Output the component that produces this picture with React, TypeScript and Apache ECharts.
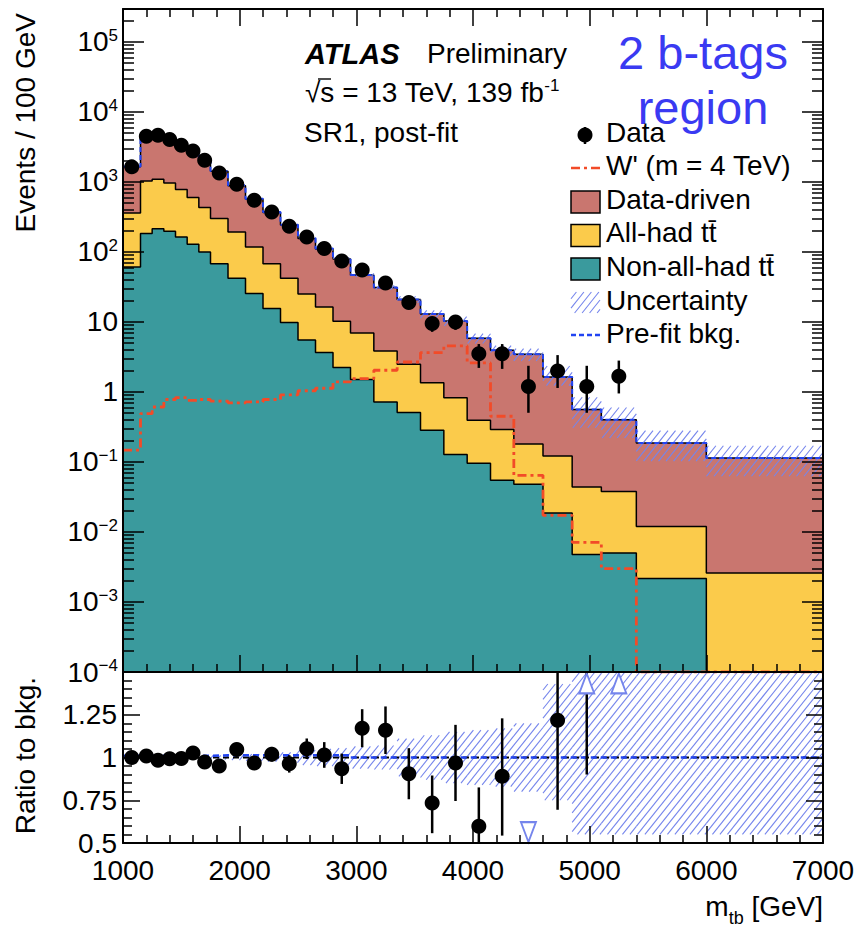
import React, { useEffect, useRef } from 'react';
import * as echarts from 'echarts';

// m_tb binning (GeV); 28 bins of variable width
const binEdges = [1000, 1150, 1250, 1350, 1450, 1550, 1650, 1750, 1900, 2050, 2200, 2350, 2500, 2650, 2800, 2950, 3150, 3350, 3550, 3750, 3950, 4150, 4350, 4600, 4850, 5100, 5400, 6000, 7000];

// Observed events / 100 GeV (no events in the last two bins)
const dataEvents = [1640, 4500, 4650, 4030, 3340, 2770, 2040, 1345, 927, 548, 373, 233, 164, 112, 74, 55, 36, 19, 9.5, 10, 3.5, 3.5, 1.2, 2.0, 1.2, 1.67, null, null];
// Relative statistical errors on the data (up / down)
const dataErrUp = [0.025, 0.015, 0.015, 0.016, 0.017, 0.019, 0.022, 0.022, 0.027, 0.035, 0.042, 0.053, 0.057, 0.074, 0.095, 0.095, 0.12, 0.165, 0.22, 0.23, 0.38, 0.38, 0.97, 0.68, 0.97, 0.68, 0, 0];
const dataErrDown = [0.025, 0.015, 0.015, 0.016, 0.017, 0.019, 0.022, 0.022, 0.027, 0.035, 0.042, 0.053, 0.057, 0.074, 0.095, 0.095, 0.12, 0.165, 0.24, 0.23, 0.37, 0.39, 0.58, 0.43, 0.58, 0.43, 0, 0];

// Post-fit background components, events / 100 GeV
const nonAllHadTtbar = [61, 183, 215, 198, 164, 129, 100, 68, 42, 25.5, 15.5, 9.8, 5.5, 3.66, 2.23, 1.5, 0.72, 0.51, 0.284, 0.128, 0.096, 0.055, 0.048, 0.0187, 0.00475, 0.005, 0.00216, 0];
const allHadTtbar = [300, 850, 878, 770, 614, 469, 330, 232, 151, 92.5, 52.5, 32.2, 19.5, 12.7, 8.0, 5.46, 3.13, 1.98, 1.07, 0.70, 0.298, 0.235, 0.132, 0.103, 0.039, 0.033, 0.0098, 0.0026];
const dataDriven = [1280, 3430, 3630, 3090, 2580, 2100, 1665, 1115, 692, 448, 298, 200, 131, 94, 69, 40, 27.2, 18.5, 11.6, 9.5, 5.46, 3.64, 3.28, 1.52, 0.516, 0.362, 0.175, 0.111];

// W' signal, m = 4 TeV
const wPrime4TeV = [0.148, 0.49, 0.61, 0.78, 0.83, 0.76, 0.78, 0.74, 0.70, 0.72, 0.78, 0.91, 1.04, 1.13, 1.39, 1.55, 2.04, 2.68, 3.65, 4.55, 2.6, 0.45, 0.0645, 0.0173, 0.0071, 0.003, 0, 0];

// Pre-fit / post-fit total background
const prefitScale = [1.01, 1.01, 1.01, 1.01, 1.01, 1.01, 1.01, 1.013, 1.013, 1.013, 1.013, 1.013, 1.013, 1.013, 1.013, 1.0, 1.0, 1.0, 1.0, 1.0, 1.0, 1.0, 1.0, 1.0, 1.0, 1.0, 1.0, 1.0];

// Relative background uncertainty (up / down)
const bkgUncUp = [0.006, 0.005, 0.005, 0.005, 0.006, 0.007, 0.008, 0.012, 0.015, 0.02, 0.025, 0.03, 0.045, 0.05, 0.055, 0.065, 0.07, 0.11, 0.13, 0.15, 0.16, 0.17, 0.2, 0.43, 0.5, 0.5, 0.5, 0.5];
const bkgUncDown = [0.006, 0.005, 0.005, 0.005, 0.006, 0.007, 0.008, 0.012, 0.015, 0.02, 0.025, 0.03, 0.045, 0.05, 0.055, 0.065, 0.07, 0.11, 0.13, 0.15, 0.16, 0.17, 0.2, 0.25, 0.45, 0.45, 0.45, 0.45];

// Axis ticks / labels
const logTickValues = [1e-4, 1e-3, 1e-2, 1e-1, 1, 10, 100, 1e3, 1e4, 1e5];
const ratioTickLabels = [0.5, 0.75, 1, 1.25];

const X_MIN = 1000;
const X_MAX = 7000;
const Y_MIN = 1e-4;
const Y_MAX = 2.95e5;
const R_MIN = 0.5;
const R_MAX = 1.5;

const FONT = 'Liberation Sans, Arial, Helvetica, sans-serif';
const C_DATADRIVEN = '#c9766f';
const C_ALLHAD = '#fbcb4b';
const C_NONALLHAD = '#3a9a9d';
const C_HATCH = '#7585ec';
const C_PREFIT = '#2244f2';
const C_WPRIME = '#f24b28';
const C_LABEL = '#3a3af2';

const HATCH_SLOPE = 1.25;
const HATCH_STEP = 7.5;

function hatchSegments(X0: number, X1: number, Y0: number, Y1: number) {
  const out: any[] = [];
  const t = HATCH_SLOPE;
  const s = HATCH_STEP;
  const uMin = X0 + Y0 / t;
  const uMax = X1 + Y1 / t;
  for (let u = Math.ceil(uMin / s) * s; u <= uMax; u += s) {
    const ya = Math.max(Y0, t * (u - X1));
    const yb = Math.min(Y1, t * (u - X0));
    if (yb - ya > 0.5) {
      out.push({
        type: 'line',
        shape: { x1: u - ya / t, y1: ya, x2: u - yb / t, y2: yb },
        style: { stroke: C_HATCH, lineWidth: 1.1 },
      });
    }
  }
  return out;
}

const clamp = (v: number, lo: number, hi: number) => Math.min(Math.max(v, lo), hi);

function hatchRenderer(lo: number, hi: number) {
  return (_params: any, api: any) => {
    const x0 = api.value(0);
    const x1 = api.value(1);
    const yl = clamp(api.value(2), lo, hi);
    const yh = clamp(api.value(3), lo, hi);
    const a = api.coord([x0, yh]);
    const b = api.coord([x1, yl]);
    return { type: 'group', children: hatchSegments(a[0], b[0], a[1], b[1]) };
  };
}

function errorBarRenderer(lo: number, hi: number) {
  return (_params: any, api: any) => {
    const x = api.value(0);
    const yl = clamp(api.value(1), lo, hi);
    const yh = clamp(api.value(2), lo, hi);
    if (yh <= yl) return null;
    const a = api.coord([x, yh]);
    const b = api.coord([x, yl]);
    return {
      type: 'line',
      shape: { x1: a[0], y1: a[1], x2: b[0], y2: b[1] },
      style: { stroke: '#000', lineWidth: 2.5 },
    };
  };
}

function buildOption() {
  const nBins = binEdges.length - 1;
  const centers = binEdges.slice(0, nBins).map((e, i) => (e + binEdges[i + 1]) / 2);
  const stackTeal = nonAllHadTtbar.slice();
  const stackYellow = stackTeal.map((v, i) => v + allHadTtbar[i]);
  const totalBkg = stackYellow.map((v, i) => v + dataDriven[i]);
  const prefitBkg = totalBkg.map((v, i) => v * prefitScale[i]);

  const stepData = (values: number[], floor: number) => {
    const pts: number[][] = values.map((v, i) => [binEdges[i], Math.max(v, floor)]);
    pts.push([X_MAX, Math.max(values[values.length - 1], floor)]);
    return pts;
  };

  const minorLogTicks: number[] = [];
  for (let e = -4; e <= 5; e++) {
    for (let k = 2; k <= 9; k++) {
      const v = k * Math.pow(10, e);
      if (v < Y_MAX) minorLogTicks.push(v);
    }
  }

  const dataPoints: number[][] = [];
  const dataBars: number[][] = [];
  const ratioPoints: number[][] = [];
  const ratioBars: number[][] = [];
  const arrowsUp: number[][] = [];
  const arrowsDown: number[][] = [];
  dataEvents.forEach((d, i) => {
    if (d === null || d === undefined) return;
    dataPoints.push([centers[i], d]);
    dataBars.push([centers[i], d * (1 - dataErrDown[i]), d * (1 + dataErrUp[i])]);
    const r = d / totalBkg[i];
    if (r > R_MAX) {
      arrowsUp.push([centers[i], R_MAX - 0.067]);
      ratioBars.push([centers[i], r * (1 - dataErrDown[i]), r * (1 + dataErrUp[i])]);
    } else if (r < R_MIN) {
      arrowsDown.push([centers[i], R_MIN + 0.064]);
    } else {
      ratioPoints.push([centers[i], r]);
      ratioBars.push([centers[i], r * (1 - dataErrDown[i]), r * (1 + dataErrUp[i])]);
    }
  });

  const topBand = totalBkg.map((t, i) => [binEdges[i], binEdges[i + 1], t * (1 - bkgUncDown[i]), t * (1 + bkgUncUp[i])]);
  const ratioBand = totalBkg.map((_t, i) => [binEdges[i], binEdges[i + 1], 1 - bkgUncDown[i], 1 + bkgUncUp[i]]);

  const axisLineStyle = { color: '#000', width: 2 };
  const tickStyle = { color: '#000', width: 1.5 };

  const xAxisDef = (gridIndex: number, position: string, showLabels: boolean) => ({
    type: 'value',
    gridIndex,
    position,
    min: X_MIN,
    max: X_MAX,
    interval: 1000,
    axisLine: { show: true, onZero: false, lineStyle: axisLineStyle },
    axisTick: { show: true, inside: true, length: 17, lineStyle: tickStyle },
    minorTick: { show: true, splitNumber: 5, length: 8, lineStyle: tickStyle },
    axisLabel: showLabels
      ? { show: true, margin: 13, fontSize: 28, fontFamily: FONT, color: '#000', lineHeight: 28, formatter: (v: number) => String(v) }
      : { show: false },
    splitLine: { show: false },
    minorSplitLine: { show: false },
    z: 10,
  });

  const logAxisDef = (position: string, ticks: number[], length: number, labels: boolean, line: boolean) => ({
    type: 'log',
    logBase: 10,
    gridIndex: 0,
    position,
    min: Y_MIN,
    max: Y_MAX,
    axisLine: { show: line, onZero: false, lineStyle: axisLineStyle },
    axisTick: { show: true, inside: true, length, lineStyle: tickStyle, customValues: ticks },
    axisLabel: labels
      ? {
          show: true,
          margin: 5,
          customValues: logTickValues,
          formatter: (v: number) => {
            const e = Math.round(Math.log10(v));
            if (e === 0) return '{n|1}';
            if (e === 1) return '{n|10}';
            return `{n|10}{e|${e < 0 ? '\u2212' + -e : e}}`;
          },
          rich: {
            n: { fontSize: 28, fontFamily: FONT, color: '#000', lineHeight: 30 },
            e: { fontSize: 17, fontFamily: FONT, color: '#000', lineHeight: 14, verticalAlign: 'top' },
          },
        }
      : { show: false },
    splitLine: { show: false },
    z: 10,
  });

  const ratioAxisDef = (position: string, labels: boolean) => ({
    type: 'value',
    gridIndex: 1,
    position,
    min: R_MIN,
    max: R_MAX,
    interval: 0.25,
    axisLine: { show: true, onZero: false, lineStyle: axisLineStyle },
    axisTick: { show: true, inside: true, length: 17, lineStyle: tickStyle },
    minorTick: { show: true, splitNumber: 5, length: 9, lineStyle: tickStyle },
    axisLabel: labels
      ? { show: true, margin: 6, customValues: ratioTickLabels, fontSize: 28, fontFamily: FONT, color: '#000', formatter: (v: number) => String(v) }
      : { show: false },
    splitLine: { show: false },
    minorSplitLine: { show: false },
    z: 10,
  });

  const fill = (name: string, values: number[], color: string) => ({
    type: 'line',
    name,
    xAxisIndex: 0,
    yAxisIndex: 0,
    step: 'end',
    symbol: 'none',
    silent: true,
    data: stepData(values, Y_MIN),
    lineStyle: { color: '#000', width: 1.5 },
    areaStyle: { color, opacity: 1, origin: 'start' },
    z: 2,
  });

  const marker = { color: '#000', opacity: 1 };

  // legend rows
  const lx0 = 571;
  const lx1 = 600;
  const ltx = 606;
  const legendText = (text: string, y: number) => ({
    type: 'text',
    x: ltx,
    y,
    style: { text, fontSize: 28, fontFamily: FONT, fill: '#000', verticalAlign: 'middle', align: 'left' },
    z: 30,
  });

  const graphic: any[] = [
    // ATLAS label block
    { type: 'text', x: 305, y: 53.5, style: { text: 'ATLAS', fontSize: 29, fontWeight: 'bold', fontStyle: 'italic', fontFamily: FONT, fill: '#000', verticalAlign: 'middle' }, z: 30 },
    { type: 'text', x: 427, y: 53.5, style: { text: 'Preliminary', fontSize: 28, fontFamily: FONT, fill: '#000', verticalAlign: 'middle' }, z: 30 },
    {
      type: 'text', x: 305, y: 92,
      style: {
        text: '{a|\u221As = 13 TeV, 139 fb}{b|-1}',
        verticalAlign: 'middle',
        rich: {
          a: { fontSize: 28, fontFamily: FONT, fill: '#000', lineHeight: 30 },
          b: { fontSize: 17, fontFamily: FONT, fill: '#000', lineHeight: 14, verticalAlign: 'top' },
        },
      },
      z: 30,
    },
    // radical bar over the s
    { type: 'line', shape: { x1: 318, y1: 79, x2: 331, y2: 79 }, style: { stroke: '#000', lineWidth: 1.4 }, z: 30 },
    { type: 'text', x: 304, y: 132, style: { text: 'SR1, post-fit', fontSize: 28, fontFamily: FONT, fill: '#000', verticalAlign: 'middle' }, z: 30 },
    // region label
    { type: 'text', x: 703, y: 52, style: { text: '2 b-tags', fontSize: 47, fontFamily: FONT, fill: C_LABEL, align: 'center', verticalAlign: 'middle' }, z: 30 },
    { type: 'text', x: 703, y: 107, style: { text: 'region', fontSize: 47, fontFamily: FONT, fill: C_LABEL, align: 'center', verticalAlign: 'middle' }, z: 30 },
    // legend
    { type: 'line', shape: { x1: 585, y1: 127, x2: 585, y2: 144 }, style: { stroke: '#000', lineWidth: 2.5 }, z: 30 },
    { type: 'circle', shape: { cx: 585, cy: 135, r: 7.5 }, style: { fill: '#000' }, z: 30 },
    legendText('Data', 132),
    { type: 'line', shape: { x1: lx0, y1: 168, x2: lx1, y2: 168 }, style: { stroke: C_WPRIME, lineWidth: 2.5, lineDash: [9, 4, 3, 4] }, z: 30 },
    legendText("W' (m = 4 TeV)", 165.5),
    { type: 'rect', shape: { x: lx0, y: 191, width: lx1 - lx0, height: 22 }, style: { fill: C_DATADRIVEN, stroke: '#000', lineWidth: 1.5 }, z: 30 },
    legendText('Data-driven', 199),
    { type: 'rect', shape: { x: lx0, y: 224.5, width: lx1 - lx0, height: 22 }, style: { fill: C_ALLHAD, stroke: '#000', lineWidth: 1.5 }, z: 30 },
    legendText('All-had t\u0074\u0304', 232.5),
    { type: 'rect', shape: { x: lx0, y: 258, width: lx1 - lx0, height: 22 }, style: { fill: C_NONALLHAD, stroke: '#000', lineWidth: 1.5 }, z: 30 },
    legendText('Non-all-had t\u0074\u0304', 266.5),
    { type: 'group', children: hatchSegments(lx0, lx1, 292, 313), z: 30 },
    legendText('Uncertainty', 300.5),
    { type: 'line', shape: { x1: lx0, y1: 335, x2: lx1, y2: 335 }, style: { stroke: C_PREFIT, lineWidth: 2.5, lineDash: [5, 3] }, z: 30 },
    legendText('Pre-fit bkg.', 333.5),
    // axis titles
    { type: 'text', x: 25, y: 13, rotation: Math.PI / 2, style: { text: 'Events / 100 GeV', fontSize: 28, fontFamily: FONT, fill: '#000', align: 'right', verticalAlign: 'middle' }, z: 30 },
    { type: 'text', x: 25, y: 677, rotation: Math.PI / 2, style: { text: 'Ratio to bkg.', fontSize: 28, fontFamily: FONT, fill: '#000', align: 'right', verticalAlign: 'middle' }, z: 30 },
    {
      type: 'text', x: 823, y: 906,
      style: {
        text: '{a|m}{b|tb}{a| [GeV]}',
        align: 'right',
        verticalAlign: 'middle',
        rich: {
          a: { fontSize: 28, fontFamily: FONT, fill: '#000', lineHeight: 30 },
          b: { fontSize: 18, fontFamily: FONT, fill: '#000', lineHeight: 14, verticalAlign: 'bottom', padding: [0, 0, -6, 0] },
        },
      },
      z: 30,
    },
  ];

  return {
    animation: false,
    backgroundColor: '#fff',
    grid: [
      { left: 123, top: 9, width: 700, height: 663, containLabel: false, outerBoundsMode: 'none' },
      { left: 123, top: 672, width: 700, height: 171, containLabel: false, outerBoundsMode: 'none' },
    ],
    xAxis: [
      xAxisDef(0, 'bottom', false),
      xAxisDef(0, 'top', false),
      xAxisDef(1, 'bottom', true),
    ],
    yAxis: [
      logAxisDef('left', logTickValues, 21, true, true),
      logAxisDef('left', minorLogTicks, 11, false, false),
      logAxisDef('right', logTickValues, 21, false, true),
      logAxisDef('right', minorLogTicks, 11, false, false),
      ratioAxisDef('left', true),
      ratioAxisDef('right', false),
    ],
    series: [
      fill('Data-driven', totalBkg, C_DATADRIVEN),
      fill('All-had ttbar', stackYellow, C_ALLHAD),
      fill('Non-all-had ttbar', stackTeal, C_NONALLHAD),
      {
        type: 'custom',
        name: 'Uncertainty',
        xAxisIndex: 0,
        yAxisIndex: 0,
        encode: { x: [0, 1], y: [2, 3] },
        data: topBand,
        renderItem: hatchRenderer(Y_MIN, Y_MAX),
        silent: true,
        z: 3,
      },
      {
        type: 'line',
        name: 'Pre-fit bkg.',
        xAxisIndex: 0,
        yAxisIndex: 0,
        step: 'end',
        symbol: 'none',
        data: stepData(prefitBkg, Y_MIN),
        lineStyle: { color: C_PREFIT, width: 2, type: [5, 3] },
        z: 4,
      },
      {
        type: 'line',
        name: "W' (m = 4 TeV)",
        xAxisIndex: 0,
        yAxisIndex: 0,
        step: 'end',
        symbol: 'none',
        data: stepData(wPrime4TeV, Y_MIN),
        lineStyle: { color: C_WPRIME, width: 2.8, type: [9, 4, 3, 4] },
        z: 4,
      },
      {
        type: 'custom',
        name: 'Data errors',
        xAxisIndex: 0,
        yAxisIndex: 0,
        encode: { x: 0, y: [1, 2] },
        data: dataBars,
        renderItem: errorBarRenderer(Y_MIN, Y_MAX),
        silent: true,
        z: 5,
      },
      {
        type: 'scatter',
        name: 'Data',
        xAxisIndex: 0,
        yAxisIndex: 0,
        data: dataPoints,
        symbol: 'circle',
        symbolSize: 15,
        itemStyle: marker,
        z: 6,
      },
      // ratio panel
      {
        type: 'custom',
        name: 'Uncertainty ratio',
        xAxisIndex: 2,
        yAxisIndex: 4,
        encode: { x: [0, 1], y: [2, 3] },
        data: ratioBand,
        renderItem: hatchRenderer(R_MIN, R_MAX),
        silent: true,
        z: 3,
      },
      {
        type: 'line',
        name: 'Unity',
        xAxisIndex: 2,
        yAxisIndex: 4,
        symbol: 'none',
        data: [[X_MIN, 1], [X_MAX, 1]],
        lineStyle: { color: '#000', width: 2, type: [6, 4] },
        z: 4,
      },
      {
        type: 'line',
        name: 'Pre-fit ratio',
        xAxisIndex: 2,
        yAxisIndex: 4,
        step: 'end',
        symbol: 'none',
        data: stepData(prefitScale, R_MIN),
        lineStyle: { color: C_PREFIT, width: 2.5, type: [6, 4] },
        z: 4,
      },
      {
        type: 'custom',
        name: 'Ratio errors',
        xAxisIndex: 2,
        yAxisIndex: 4,
        encode: { x: 0, y: [1, 2] },
        data: ratioBars,
        renderItem: errorBarRenderer(R_MIN, R_MAX),
        silent: true,
        z: 5,
      },
      {
        type: 'scatter',
        name: 'Ratio',
        xAxisIndex: 2,
        yAxisIndex: 4,
        data: ratioPoints,
        symbol: 'circle',
        symbolSize: 15,
        itemStyle: marker,
        z: 6,
      },
      {
        type: 'scatter',
        name: 'Above range',
        xAxisIndex: 2,
        yAxisIndex: 4,
        data: arrowsUp,
        symbol: 'triangle',
        symbolSize: [15, 20],
        itemStyle: { color: '#fff', borderColor: C_HATCH, borderWidth: 2, opacity: 1 },
        z: 7,
      },
      {
        type: 'scatter',
        name: 'Below range',
        xAxisIndex: 2,
        yAxisIndex: 4,
        data: arrowsDown,
        symbol: 'triangle',
        symbolRotate: 180,
        symbolSize: [15, 20],
        itemStyle: { color: '#fff', borderColor: C_HATCH, borderWidth: 2, opacity: 1 },
        z: 7,
      },
    ],
    graphic,
  };
}

export default function App() {
  const ref = useRef<HTMLDivElement>(null);
  useEffect(() => {
    if (!ref.current) return;
    const chart = echarts.init(ref.current, null, { renderer: 'svg' });
    chart.setOption(buildOption() as any);
    return () => chart.dispose();
  }, []);
  return (
    <div
      ref={ref}
      style={{ position: 'fixed', left: 0, top: 0, width: 859, height: 927, background: '#fff' }}
    />
  );
}
